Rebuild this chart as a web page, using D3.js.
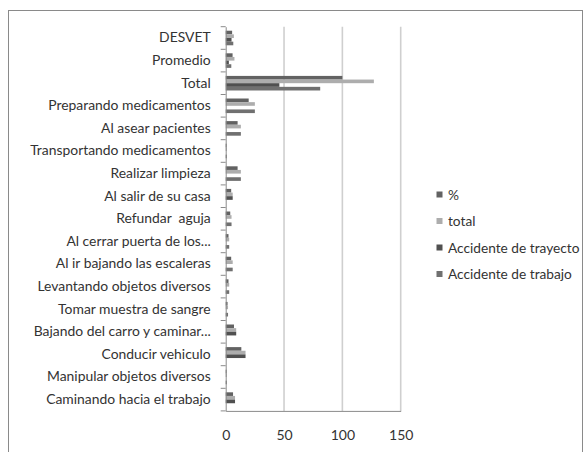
<!DOCTYPE html>
<html><head><meta charset="utf-8">
<script src="https://cdn.jsdelivr.net/npm/d3@7"></script>
<style>body{margin:0;background:#fff}svg{display:block}text{font-family:Lato,"Open Sans",sans-serif;fill:#333}</style>
</head><body>
<svg id="c" width="585" height="452"></svg>
<script>
const categories = ["DESVET","Promedio","Total","Preparando medicamentos","Al asear pacientes","Transportando medicamentos","Realizar limpieza","Al salir de su casa","Refundar  aguja","Al cerrar puerta de los...","Al ir bajando las escaleras","Levantando objetos diversos","Tomar muestra de sangre","Bajando del carro y caminar...","Conducir vehiculo","Manipular objetos diversos","Caminando hacia el trabajo"];
const seriesNames = ["%","total","Accidente de trayecto","Accidente de trabajo"];
const pct      = [5.5, 5.9, 100, 19.7, 10.2, 0.8, 10.2, 4.7, 3.9, 2.4, 4.7, 2.4, 1.6, 7.1, 13.4, 0.8, 6.3];
const total    = [7, 7.5, 127, 25, 13, 1, 13, 6, 5, 3, 6, 3, 2, 9, 17, 1, 8];
const trayecto = [5, 2.7, 46, 0, 0, 0, 0, 6, 0, 0, 0, 0, 0, 9, 17, 0, 8];
const trabajo  = [6.5, 4.8, 81, 25, 13, 1, 13, 0, 5, 3, 6, 3, 2, 0, 0, 1, 0];
const xTicks = [0, 50, 100, 150];
const colors = ["#626262","#adadad","#505050","#707070"];

const seriesValues = [pct, total, trayecto, trabajo];
const svg = d3.select("#c");
svg.append("rect").attr("x",8.5).attr("y",10.5).attr("width",574).attr("height",460)
  .attr("fill","#fff").attr("stroke","#8a8a8a");

const L = 225.7, R = 400.7, T = 26.7, B = 410.9;
const x = d3.scaleLinear().domain([0,150]).range([L,R]);
const y = d3.scaleBand().domain(categories).range([T,B]).paddingInner(0).paddingOuter(0);
const ys = d3.scaleBand().domain(seriesNames).range([0,y.bandwidth()]).paddingInner(0).paddingOuter(1.1);

// gridlines
svg.append("g").selectAll("line").data(xTicks.filter(d=>d>0)).join("line")
  .attr("x1",d=>x(d)).attr("x2",d=>x(d)).attr("y1",T).attr("y2",B)
  .attr("stroke","#cfcfcf").attr("stroke-width",1.6);

// bars
const g = svg.append("g");
categories.forEach((c,i)=>{
  seriesNames.forEach((s,j)=>{
    const v = seriesValues[j][i];
    g.append("rect").attr("x",x(0)).attr("y",y(c)+ys(s))
      .attr("width",Math.max(0,x(v)-x(0))).attr("height",ys.bandwidth())
      .attr("fill",colors[j]);
  });
});

// y axis
const yAxis = d3.axisLeft(y).tickSize(0).tickPadding(15);
const ya = svg.append("g").attr("transform",`translate(${L},0)`).call(yAxis);
ya.select(".domain").attr("stroke","#8a8a8a");
ya.selectAll("text").style("font-size","13.9px").style("white-space","pre").attr("fill","#333");
// boundary ticks
svg.append("g").selectAll("line").data(d3.range(categories.length+1)).join("line")
  .attr("x1",L-5).attr("x2",L).attr("y1",d=>T+d*y.step()).attr("y2",d=>T+d*y.step())
  .attr("stroke","#8a8a8a");

// x axis
const xa = svg.append("g").attr("transform",`translate(0,${B})`).call(d3.axisBottom(x).tickValues(xTicks).tickSize(0).tickPadding(19));
xa.select(".domain").attr("stroke","#8a8a8a");
xa.selectAll("text").style("font-size","14px").attr("fill","#333");

// legend
const leg = svg.append("g");
const legY = [195, 221.5, 248, 274.5];
seriesNames.forEach((s,j)=>{
  leg.append("rect").attr("x",436.5).attr("y",legY[j]-3.5).attr("width",6).attr("height",6).attr("fill",colors[j]);
  leg.append("text").attr("x",448).attr("y",legY[j]+4.5).style("font-size","13.7px").text(s);
});
</script>
</body></html>
